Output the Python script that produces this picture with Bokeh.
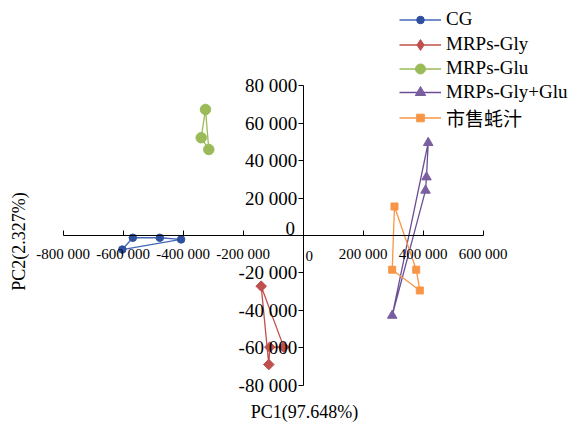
import math
from bokeh.plotting import figure
from bokeh.models import Range1d, Legend, LegendItem, Label, FixedTicker
from bokeh.embed import file_html
from bokeh.resources import INLINE

# ---- data ----
series_names = ["CG", "MRPs-Gly", "MRPs-Glu", "MRPs-Gly+Glu", "市售蚝汁"]
cg_x = [-603000, -568000, -478000, -407000]
cg_y = [-7500, -1200, -1200, -2100]
gly_x = [-140000, -64700, -111300, -114700]
gly_y = [-27100, -59700, -59700, -69000]
glu_x = [-325700, -340000, -314700]
glu_y = [67400, 52300, 46000]
glyglu_x = [296700, 416700, 411000, 407700]
glyglu_y = [-42800, 49600, 31200, 24100]
oyster_x = [304300, 296700, 388700, 376700]
oyster_y = [15500, -18300, -29400, -18300]

x_ticks = [-800000, -600000, -400000, -200000, 0, 200000, 400000, 600000]
y_ticks = [-80000, -60000, -40000, -20000, 0, 20000, 40000, 60000, 80000]
x_title = "PC1(97.648%)"
y_title = "PC2(2.327%)"

def fmt(v):
    return "{:,}".format(v).replace(",", " ")

SERIF = "'Liberation Serif', 'Times New Roman', 'Noto Sans CJK SC', serif"
NAN = float("nan")

W, H = 568, 424
p = figure(width=W, height=H, output_backend="svg", toolbar_location=None,
           x_range=Range1d(-1009000, 884333), y_range=Range1d(-101070, 125668),
           min_border_left=0, min_border_right=0, min_border_top=0, min_border_bottom=0,
           outline_line_color=None)
p.grid.visible = False
p.background_fill_color = "white"

for ax in (p.xaxis[0], p.yaxis[0]):
    ax.fixed_location = 0
    ax.axis_line_color = "black"
    ax.major_tick_line_color = "black"
    ax.minor_tick_line_color = None
    ax.major_label_text_font = SERIF
    ax.major_label_text_color = "black"

xa = p.xaxis[0]
xa.ticker = FixedTicker(ticks=x_ticks)
xa.bounds = (x_ticks[0], x_ticks[-1])
xa.major_label_overrides = {v: (fmt(v) if v != 0 else "") for v in x_ticks}
xa.major_tick_in = 5
xa.major_tick_out = 0
xa.major_label_standoff = 11
xa.major_label_text_font_size = "15px"

ya = p.yaxis[0]
ya.ticker = FixedTicker(ticks=y_ticks)
ya.bounds = (y_ticks[0], y_ticks[-1])
ya.major_label_overrides = {v: (fmt(v) if v != 0 else "") for v in y_ticks}
ya.major_tick_in = 0
ya.major_tick_out = 5
ya.major_label_standoff = 1
ya.major_label_text_font_size = "19px"

# zero labels offset like the reference
p.add_layout(Label(x=0, y=0, x_offset=6, y_offset=-21, text="0", text_align="center",
                   text_baseline="middle", text_font=SERIF, text_font_size="15px",
                   text_color="black"))
p.add_layout(Label(x=0, y=0, x_offset=-13, y_offset=7, text="0", text_align="center",
                   text_baseline="middle", text_font=SERIF, text_font_size="19px",
                   text_color="black"))

# axis titles
p.add_layout(Label(x=4300, y=-94650, text=x_title, text_align="center",
                   text_baseline="alphabetic",
                   text_font=SERIF, text_font_size="18px", text_color="black"))
p.add_layout(Label(x=-949000, y=-3200, text=y_title, text_align="center", text_baseline="middle",
                   angle=math.pi / 2, text_font=SERIF, text_font_size="18px", text_color="black"))

# line colour, marker colour, plot marker, plot size, plot angle, legend marker, legend glyph height
specs = [
    (cg_x, cg_y, "#4468b8", "#2f4f9f", "circle", 7.5, 0, "circle", 19),
    (gly_x, gly_y, "#c0504d", "#c0504d", "square", 7.5, math.pi / 4, "diamond", 27),
    (glu_x, glu_y, "#9bbb59", "#9bbb59", "circle", 10.5, 0, "circle", 25),
    (glyglu_x, glyglu_y, "#6a4f96", "#7b5ea0", "triangle", 9.5, 0, "triangle", 26),
    (oyster_x, oyster_y, "#f79646", "#f79646", "square", 7, 0, "square", 19),
]

# one single-item legend per row, so every row sits at the reference's pitch
ROW_H = 34
row_bottoms = [388, 363, 339, 315, 290]
for name, spec, vy in zip(series_names, specs, row_bottoms):
    xs, ys, lc, mc, marker, size, ang, lmarker, gh = spec
    lr = p.line(xs + xs[:1], ys + ys[:1], line_color=lc, line_width=1.3)
    sr = p.scatter(xs, ys, marker=marker, size=size, angle=ang, fill_color=mc, line_color=mc)
    # legend-only marker (a single NaN point, so nothing shows in the plot area)
    kr = p.scatter(x=[NAN], y=[NAN], marker=lmarker, size=size, fill_color=mc, line_color=mc)
    lg = Legend(items=[LegendItem(label=name, renderers=[lr, kr])], location=(399, vy),
                padding=0, margin=0, spacing=0,
                glyph_width=42, glyph_height=gh, label_height=ROW_H, label_standoff=5,
                label_text_font=SERIF, label_text_font_size="19px", label_text_color="black",
                border_line_color=None, background_fill_alpha=0)
    p.add_layout(lg)

open("out.html", "w").write(file_html(p, INLINE))
